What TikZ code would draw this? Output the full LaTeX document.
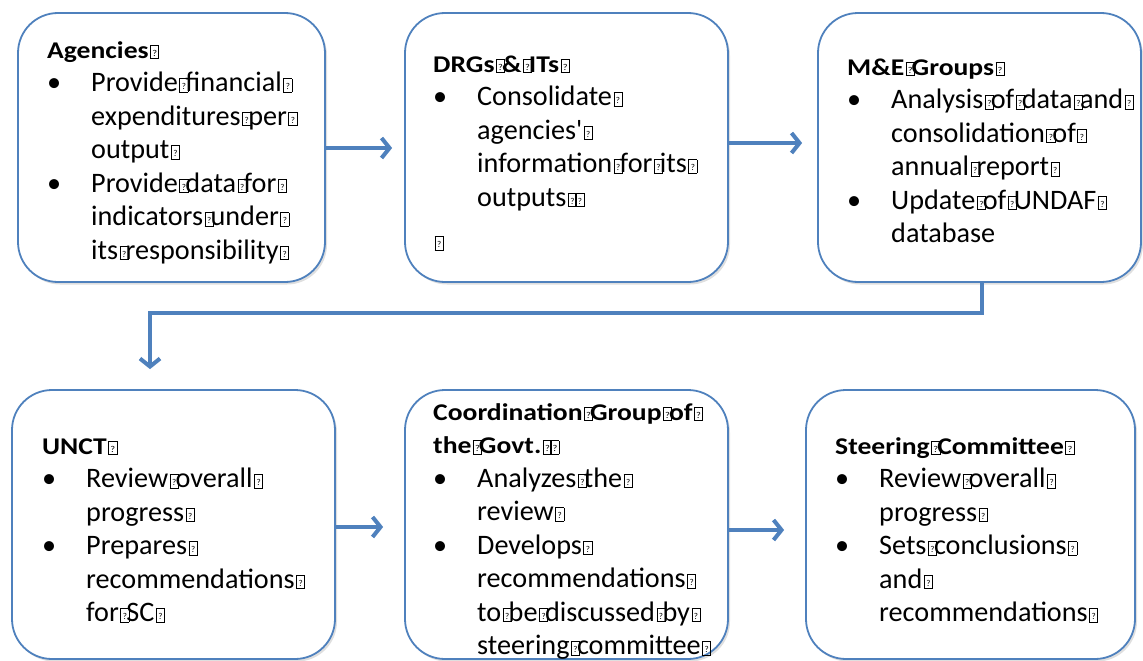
\documentclass[tikz,border=0pt]{standalone}
\usepackage{fontspec}
\setmainfont{Carlito}
\newfontfamily\hdfont{Carlito}[FakeStretch=1.15]
\usetikzlibrary{arrows.meta,shadows}
\definecolor{bl}{RGB}{79,129,189}
\newcommand\qbx{\hspace{1.5pt}\makebox[6pt][l]{\setlength\fboxsep{0pt}\setlength\fboxrule{0.75pt}\fbox{\makebox[7.5pt][c]{\rule{0pt}{12.5pt}\raisebox{2pt}{\fontsize{9}{9}\selectfont\mdseries ?}}}}}
\newcommand\bu{\makebox[44pt][l]{\textbullet}}
\newcommand\ind{\hspace*{44pt}}
\newcommand\hd[1]{{\hdfont\bfseries\fontsize{24}{33.5}\selectfont\rule{0pt}{22pt}#1}}
\tikzset{
  box/.style={draw=bl, line width=1.8pt, rounded corners=40pt, fill=white,
    drop shadow={opacity=0.25, shadow xshift=2pt, shadow yshift=-2.5pt}},
  txt/.style={anchor=north west, inner sep=0pt, align=left,
    font=\fontsize{28.2}{33.5}\selectfont},
  arr/.style={draw=bl, line width=4pt, -{Straight Barb[length=8pt,width=20pt]}}
}
\begin{document}
\begin{tikzpicture}[x=1pt,y=-1pt]
\useasboundingbox (0,0) rectangle (1143,661);
% boxes
\node[box, minimum width=307pt, minimum height=269pt] (b1) at (171.5,147.5) {};
\node[box, minimum width=323pt, minimum height=269pt] (b2) at (566.5,147.5) {};
\node[box, minimum width=323pt, minimum height=269pt] (b3) at (979.5,147.5) {};
\node[box, minimum width=323pt, minimum height=269pt] (b4) at (173.5,524.5) {};
\node[box, minimum width=323pt, minimum height=269pt] (b5) at (566.5,524.5) {};
\node[box, minimum width=329pt, minimum height=269pt] (b6) at (970.5,524.5) {};
% texts
\node[txt] (t1) at (47,36) {\hd{Agencies\qbx}\\
\bu Provide\qbx financial\qbx\\
\ind expenditures\qbx per\qbx\\
\ind output\qbx\\
\bu Provide\qbx data\qbx for\qbx\\
\ind indicators\qbx under\qbx\\
\ind its\qbx responsibility\qbx};
\node[txt] (t2) at (433,50) {\hd{DRGs\qbx\&\qbx ITs\qbx}\\
\bu Consolidate\qbx\\
\ind agencies\textquotesingle\qbx\\
\ind information\qbx for\qbx its\qbx\\
\ind outputs\qbx\qbx\\[10pt]
\qbx};
\node[txt] (t3) at (847,53) {\hd{M\&E\qbx Groups\qbx}\\
\bu Analysis\qbx of\qbx data\qbx and\qbx\\
\ind consolidation\qbx of\qbx\\
\ind annual\qbx report\qbx\\
\bu Update\qbx of\qbx UNDAF\qbx\\
\ind database};
\node[txt] (t4) at (42,432) {\hd{UNCT\qbx}\\
\bu Review\qbx overall\qbx\\
\ind progress\qbx\\
\bu Prepares\qbx\\
\ind recommendations\qbx\\
\ind for\qbx SC\qbx};
\node[txt] (t5) at (433,398) {\hd{Coordination\qbx Group\qbx of\qbx}\\
\hd{the\qbx Govt.\qbx\qbx}\\
\bu Analyzes\qbx the\qbx\\
\ind review\qbx\\
\bu Develops\qbx\\
\ind recommendations\qbx\\
\ind to\qbx be\qbx discussed\qbx by\qbx\\
\ind steering\qbx committee\qbx};
\node[txt] (t6) at (835,432) {\hd{Steering\qbx Committee\qbx}\\
\bu Review\qbx overall\qbx\\
\ind progress\qbx\\
\bu Sets\qbx conclusions\qbx\\
\ind and\qbx\\
\ind recommendations\qbx};
% connectors
\coordinate (r1) at (0,148);
\coordinate (r2) at (0,143);
\coordinate (r4) at (0,527);
\coordinate (r5) at (0,530);
\coordinate (vx) at (982,0);
\coordinate (hy) at (0,313);
\coordinate (dx) at (150,0);
\draw[arr, shorten >=12pt] (b1.east|-r1) -- (b2.west|-r1);
\draw[arr, shorten >=15pt] (b2.east|-r2) -- (b3.west|-r2);
\draw[arr, shorten >=20pt] (b3.south-|vx) -- (vx|-hy) -| (b4.north-|dx);
\draw[arr, shorten >=21pt] (b4.east|-r4) -- (b5.west|-r4);
\draw[arr, shorten >=21pt] (b5.east|-r5) -- (b6.west|-r5);
\end{tikzpicture}
\end{document}
